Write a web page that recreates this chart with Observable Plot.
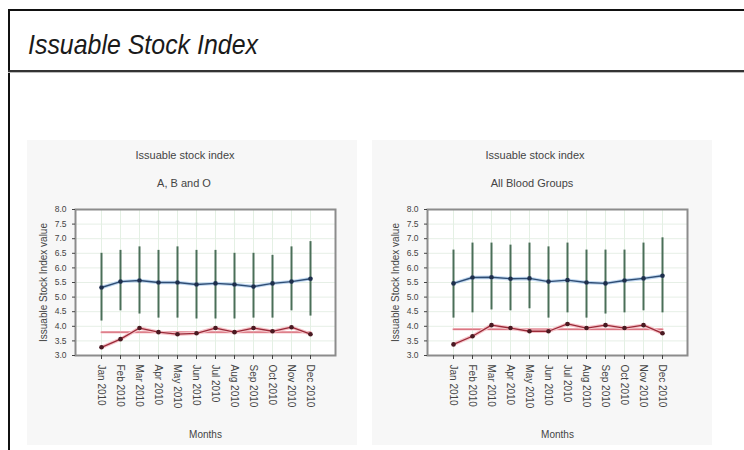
<!DOCTYPE html>
<html>
<head>
<meta charset="utf-8">
<script src="https://cdn.jsdelivr.net/npm/d3@7"></script>
<script src="https://cdn.jsdelivr.net/npm/@observablehq/plot@0.6"></script>
<style>
  html, body { margin: 0; padding: 0; background: #fff; }
  body { width: 744px; height: 450px; position: relative; overflow: hidden; font-family: "Liberation Sans", Arial, sans-serif; }
  .abs { position: absolute; }
  #frameTop { left: 8px; top: 9px; width: 740px; height: 2px; background: #111; }
  #frameLeft { left: 8px; top: 9px; width: 2px; height: 445px; background: #111; }
  #titleLine { left: 8px; top: 70px; width: 740px; height: 2px; background: #333; border-bottom: 1px solid #bbb; }
  #mainTitle { left: 28px; top: 28px; font-size: 28px; font-style: italic; color: #1a1a1a; white-space: nowrap; transform: scaleX(0.89); transform-origin: left top; line-height: 34px; }
  .panel { background: #f7f7f7; }
  .ctitle { font-size: 11px; color: #444; white-space: nowrap; transform: translateX(-50%); line-height: 12px; }
</style>
</head>
<body>
<div id="frameTop" class="abs"></div>
<div id="frameLeft" class="abs"></div>
<div id="mainTitle" class="abs">Issuable Stock Index</div>
<div id="titleLine" class="abs"></div>

<div class="abs panel" style="left:27px;top:140px;width:330px;height:305px;"></div>
<div class="abs panel" style="left:372px;top:140px;width:340px;height:305px;"></div>

<div class="abs ctitle" style="left:185px;top:149px;">Issuable stock index</div>
<div class="abs ctitle" style="left:184px;top:177px;">A, B and O</div>
<div class="abs ctitle" style="left:535px;top:149px;">Issuable stock index</div>
<div class="abs ctitle" style="left:532px;top:177px;">All Blood Groups</div>

<div id="chartL" class="abs" style="left:27px;top:195px;"></div>
<div id="chartR" class="abs" style="left:379px;top:195px;"></div>

<script>
const months = ["Jan 2010","Feb 2010","Mar 2010","Apr 2010","May 2010","Jun 2010",
                "Jul 2010","Aug 2010","Sep 2010","Oct 2010","Nov 2010","Dec 2010"];
const yTicks = [3.0,3.5,4.0,4.5,5.0,5.5,6.0,6.5,7.0,7.5,8.0];

// A, B and O
const aboMean = [5.33,5.53,5.57,5.50,5.50,5.43,5.47,5.43,5.36,5.47,5.53,5.63];
const aboHigh = [6.50,6.60,6.72,6.60,6.72,6.60,6.60,6.50,6.50,6.43,6.72,6.90];
const aboLow  = [4.18,4.53,4.42,4.28,4.28,4.25,4.25,4.25,4.28,4.28,4.53,4.35];
const aboRed  = [3.28,3.56,3.94,3.80,3.73,3.76,3.94,3.80,3.94,3.83,3.97,3.73];
const aboTarget = 3.8;

// All Blood Groups
const allMean = [5.47,5.67,5.68,5.63,5.64,5.53,5.58,5.50,5.47,5.57,5.64,5.73];
const allHigh = [6.61,6.85,6.85,6.78,6.85,6.72,6.85,6.61,6.61,6.61,6.85,7.03];
const allLow  = [4.28,4.46,4.56,4.53,4.60,4.28,4.46,4.28,4.42,4.46,4.53,4.46];
const allRed  = [3.38,3.66,4.04,3.94,3.83,3.83,4.08,3.94,4.04,3.94,4.04,3.76];
const allTarget = 3.9;

const yLabel = "Issuable Stock Index value";

function makeChart(mean, high, low, red, target) {
  const rows = months.map((m, i) => ({month: m, mean: mean[i], high: high[i], low: low[i], red: red[i], target}));
  return Plot.plot({
    width: 330,
    height: 250,
    marginLeft: 48,
    marginRight: 22,
    marginTop: 14,
    marginBottom: 90,
    style: {background: "transparent", fontFamily: "Liberation Sans, Arial, sans-serif", color: "#444"},
    x: {type: "point", domain: months, padding: 1.1},
    y: {domain: [3, 8]},
    marks: [
      Plot.frame({fill: "#fff", stroke: null}),
      Plot.ruleY(yTicks, {stroke: "#e6efe6", strokeWidth: 1}),
      Plot.ruleX(months, {stroke: "#e4f0e4", strokeWidth: 1}),
      Plot.ruleX(rows, {x: "month", y1: "low", y2: "high", stroke: "#4a6f58", strokeWidth: 2}),
      Plot.line(rows, {x: "month", y: "target", stroke: "#f5c8ce", strokeWidth: 2.5}),
      Plot.line(rows, {x: "month", y: "target", stroke: "#cc4a58", strokeWidth: 0.9}),
      Plot.line(rows, {x: "month", y: "mean", stroke: "#c0d8f0", strokeWidth: 3.5}),
      Plot.line(rows, {x: "month", y: "mean", stroke: "#2f4d74", strokeWidth: 1.4}),
      Plot.dot(rows, {x: "month", y: "mean", r: 2.3, fill: "#1e2f4c"}),
      Plot.line(rows, {x: "month", y: "red", stroke: "#f5c4ca", strokeWidth: 3.5}),
      Plot.line(rows, {x: "month", y: "red", stroke: "#9a2a38", strokeWidth: 1.3}),
      Plot.dot(rows, {x: "month", y: "red", r: 2.3, fill: "#4a1a22"}),
      Plot.frame({stroke: "#8c8c8c", strokeWidth: 2}),
      Plot.axisY({ticks: yTicks, tickFormat: d3.format(".1f"), fontSize: 8.5, tickSize: 3, label: null}),
      Plot.axisY({ticks: [], label: yLabel, labelAnchor: "center", labelArrow: "none", labelOffset: 36, fontSize: 10}),
      Plot.axisX({tickRotate: 90, fontSize: 10, tickSize: 4, label: "Months", labelAnchor: "center", labelArrow: "none", labelOffset: 82})
    ]
  });
}

document.getElementById("chartL").appendChild(makeChart(aboMean, aboHigh, aboLow, aboRed, aboTarget));
document.getElementById("chartR").appendChild(makeChart(allMean, allHigh, allLow, allRed, allTarget));
</script>
</body>
</html>
